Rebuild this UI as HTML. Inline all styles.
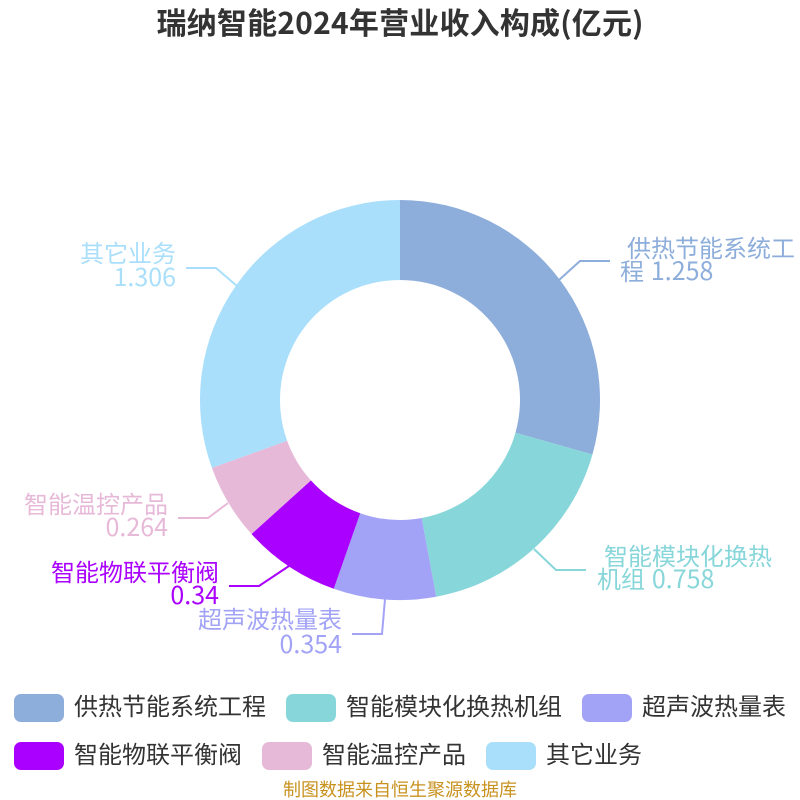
<!DOCTYPE html>
<html><head><meta charset="utf-8"><style>
html,body{margin:0;padding:0;background:#fff}
svg{display:block}
text{font-family:"Noto Sans CJK SC","Liberation Sans",sans-serif}
.l{font-size:24px}
.d{font-size:25px}
</style></head><body>
<svg width="800" height="800" viewBox="0 0 800 800" xmlns="http://www.w3.org/2000/svg">
<rect width="800" height="800" fill="#fff"/>
<text x="400" y="34" text-anchor="middle" font-size="30" font-weight="bold" fill="#333" textLength="487" lengthAdjust="spacing">瑞纳智能2024年营业收入构成(亿元)</text>
<path d="M400 200A200 200 0 0 1 592.44 454.48L515.46 432.69A120 120 0 0 0 400 280Z" fill="#8daddb"/>
<path d="M592.44 454.48A200 200 0 0 1 436.2 596.7L421.72 518.02A120 120 0 0 0 515.46 432.69Z" fill="#87d6da"/>
<path d="M436.2 596.7A200 200 0 0 1 333.74 588.7L360.24 513.22A120 120 0 0 0 421.72 518.02Z" fill="#a2a3f7"/>
<path d="M333.74 588.7A200 200 0 0 1 251.52 534L310.91 480.4A120 120 0 0 0 360.24 513.22Z" fill="#aa00ff"/>
<path d="M251.52 534A200 200 0 0 1 211.88 467.92L287.13 440.75A120 120 0 0 0 310.91 480.4Z" fill="#e7b9d8"/>
<path d="M211.88 467.92A200 200 0 0 1 400 200L400 280A120 120 0 0 0 287.13 440.75Z" fill="#a9dffb"/>
<g fill="none" stroke-width="2">
<path d="M559 280L580 261H610" stroke="#8daddb"/>
<path d="M534 549L556 570H586" stroke="#87d6da"/>
<path d="M385 599L382 634H352" stroke="#a2a3f7"/>
<path d="M289 566L259 586H229" stroke="#aa00ff"/>
<path d="M228 503L208 518H178" stroke="#e7b9d8"/>
<path d="M237 286L216 268H186" stroke="#a9dffb"/>
</g>
<g class="l">
<text x="627" y="257" fill="#8daddb">供热节能系统工</text>
<text x="620" y="280" fill="#8daddb">程 <tspan class="d" dx="1.5">1.258</tspan></text>
<text x="604" y="565" fill="#87d6da">智能模块化换热</text>
<text x="597" y="588" fill="#87d6da">机组 <tspan class="d" dx="1.5">0.758</tspan></text>
<text x="342" y="628" text-anchor="end" fill="#a2a3f7">超声波热量表</text>
<text x="342" y="653" text-anchor="end" fill="#a2a3f7" class="d">0.354</text>
<text x="219" y="581" text-anchor="end" fill="#aa00ff">智能物联平衡阀</text>
<text x="219" y="604" text-anchor="end" fill="#aa00ff" class="d">0.34</text>
<text x="168" y="513" text-anchor="end" fill="#e7b9d8">智能温控产品</text>
<text x="168" y="536" text-anchor="end" fill="#e7b9d8" class="d">0.264</text>
<text x="176" y="262" text-anchor="end" fill="#a9dffb">其它业务</text>
<text x="176" y="286" text-anchor="end" fill="#a9dffb" class="d">1.306</text>
</g>
<rect x="14" y="694" width="50" height="28" rx="7" fill="#8daddb"/>
<rect x="286" y="694" width="50" height="28" rx="7" fill="#87d6da"/>
<rect x="582" y="694" width="50" height="28" rx="7" fill="#a2a3f7"/>
<rect x="14" y="742" width="50" height="28" rx="7" fill="#aa00ff"/>
<rect x="262" y="742" width="50" height="28" rx="7" fill="#e7b9d8"/>
<rect x="486" y="742" width="50" height="28" rx="7" fill="#a9dffb"/>
<g class="l" fill="#333">
<text x="74" y="715">供热节能系统工程</text>
<text x="346" y="715">智能模块化换热机组</text>
<text x="642" y="715">超声波热量表</text>
<text x="74" y="763">智能物联平衡阀</text>
<text x="322" y="763">智能温控产品</text>
<text x="546" y="763">其它业务</text>
</g>
<text x="400" y="796" text-anchor="middle" font-size="18" fill="#c8921f">制图数据来自恒生聚源数据库</text>
</svg>
</body></html>
